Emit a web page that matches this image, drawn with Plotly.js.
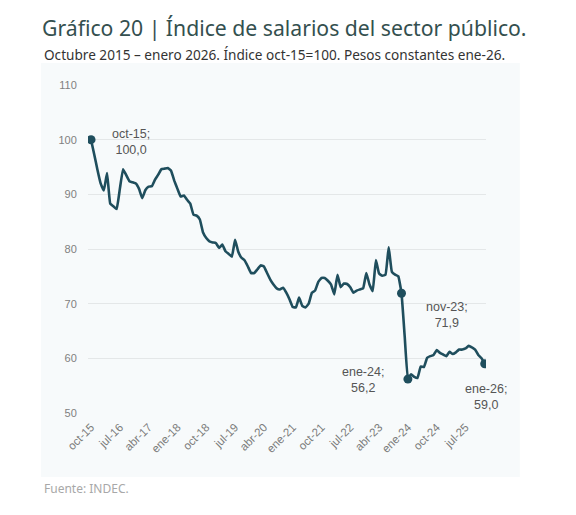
<!DOCTYPE html>
<html><head><meta charset="utf-8">
<script src="https://cdn.plot.ly/plotly-3.0.1.min.js"></script>
<style>html,body{margin:0;padding:0;background:#fff}#chart{width:576px;height:515px}</style>
</head><body><div id="chart"></div>
<script>
// Monthly index, oct-15 .. ene-26 (oct-15 = 100)
const startMonth = {year: 2015, month: 9}; // oct-15 (0-based month)
const monthNames = ["ene","feb","mar","abr","may","jun","jul","ago","sep","oct","nov","dic"];
const values = [
 100.0, 97.3, 94.5, 92.0, 90.7, 93.9, 88.3, 87.8, 87.3, 91.0,
 94.6, 93.5, 92.4, 92.2, 92.0, 91.0, 89.3, 90.8, 91.4, 91.5,
 92.7, 93.6, 94.6, 94.7, 94.8, 94.3, 92.5, 91.0, 89.6, 89.8,
 89.0, 88.3, 86.3, 86.1, 85.4, 83.0, 82.0, 81.4, 81.2, 81.1,
 80.2, 80.8, 79.6, 79.1, 78.6, 81.7, 79.5, 78.4, 77.9, 76.8,
 75.6, 75.6, 76.3, 77.0, 76.8, 75.6, 74.4, 73.5, 72.8, 72.6,
 72.9, 72.0, 70.8, 69.4, 69.3, 71.1, 69.6, 69.3, 70.0, 72.0,
 72.4, 74.0, 74.7, 74.7, 74.2, 73.5, 71.7, 75.3, 73.0, 73.7,
 73.6, 73.0, 72.0, 72.4, 72.6, 72.8, 75.6, 73.5, 72.3, 78.0,
 75.5, 75.1, 75.3, 80.3, 75.8, 75.3, 75.0, 71.9, 64.0, 56.2,
 57.1, 56.6, 56.4, 58.5, 58.4, 60.1, 60.4, 60.6, 61.5, 61.0,
 60.7, 60.4, 61.2, 60.8, 61.1, 61.6, 61.6, 61.8, 62.3, 62.0,
 61.6, 60.6, 60.0, 59.0
];
const tickStep = 9;
const highlighted = [0, 97, 99, 123];
const highlightText = ["oct-15;<br>100,0", "nov-23;<br>71,9", "ene-24;<br>56,2", "ene-26;<br>59,0"];
const yTicks = [50, 60, 70, 80, 90, 100, 110];

const labels = values.map((v, i) => {
  const m = startMonth.month + i;
  const y = startMonth.year + Math.floor(m / 12);
  return monthNames[m % 12] + "-" + String(y).slice(2);
});
const idx = values.map((v, i) => i);
const tickVals = idx.filter(i => i % tickStep === 0);
const tickText = tickVals.map(i => labels[i]);

const lineColor = "#1f4e5d";
const traces = [
  {x: idx, y: values, type: "scatter", mode: "lines",
   line: {color: lineColor, width: 2.6, shape: "spline", smoothing: 0.3},
   text: labels, hoverinfo: "text+y"},
  {x: highlighted, y: highlighted.map(i => values[i]), type: "scatter", mode: "markers",
   marker: {color: lineColor, size: 9}, hoverinfo: "skip"}
];

// annotation anchors (index, value) for label placement
const annPos = [[12.5, 99.6], [111.2, 67.9], [85.0, 56.0], [123.4, 52.9]];
const annotations = highlightText.map((t, k) => ({
  x: annPos[k][0], y: annPos[k][1], xref: "x", yref: "y", text: t, showarrow: false,
  xanchor: "center", yanchor: "middle", align: "center",
  font: {family: "Liberation Sans, Arial, sans-serif", size: 12.5, color: "#555"}
}));
annotations.push({
  xref: "paper", yref: "paper", x: -0.115, y: -0.23, xanchor: "left", yanchor: "middle",
  text: "Fuente: INDEC.", showarrow: false,
  font: {family: "Noto Sans, sans-serif", size: 12, color: "#a8a8a8"}
});
annotations.push({
  xref: "paper", yref: "paper", x: -0.115, y: 1.094, xanchor: "left", yanchor: "middle",
  text: "Octubre 2015 – enero 2026. Índice oct-15=100. Pesos constantes ene-26.", showarrow: false,
  font: {family: "Noto Sans, sans-serif", size: 13.6, color: "#333"}
});

const layout = {
  width: 576, height: 515,
  margin: {l: 88, r: 90, t: 85, b: 102},
  paper_bgcolor: "#ffffff", plot_bgcolor: "rgba(0,0,0,0)",
  showlegend: false,
  title: {text: "Gráfico 20 | Índice de salarios del sector público.", x: 0.073, xanchor: "left",
          y: 0.944, yanchor: "middle",
          font: {family: "Noto Sans, sans-serif", size: 21.2, color: "#34504f"}},
  xaxis: {range: [-0.95, 123.4], tickmode: "array", tickvals: tickVals, ticktext: tickText,
          tickangle: -45, showgrid: false, zeroline: false, showline: false,
          ticks: "outside", ticklen: 2, tickcolor: "rgba(0,0,0,0)",
          tickfont: {family: "Liberation Sans, Arial, sans-serif", size: 11.5, color: "#7a7a7a"}},
  yaxis: {range: [50, 110], tickmode: "array", tickvals: yTicks, showgrid: true,
          gridcolor: "#e4e7e8", gridwidth: 1, zeroline: false, showline: false,
          ticks: "outside", ticklen: 8, tickcolor: "rgba(0,0,0,0)",
          tickfont: {family: "Liberation Sans, Arial, sans-serif", size: 11, color: "#808080"}},
  shapes: [{type: "rect", xref: "paper", yref: "paper", x0: -0.118, x1: 1.085, y0: -0.195, y1: 1.067,
            fillcolor: "#f7fafb", line: {width: 0}, layer: "below"}],
  annotations: annotations
};
Plotly.newPlot("chart", traces, layout, {displayModeBar: false, staticPlot: true});
</script></body></html>
